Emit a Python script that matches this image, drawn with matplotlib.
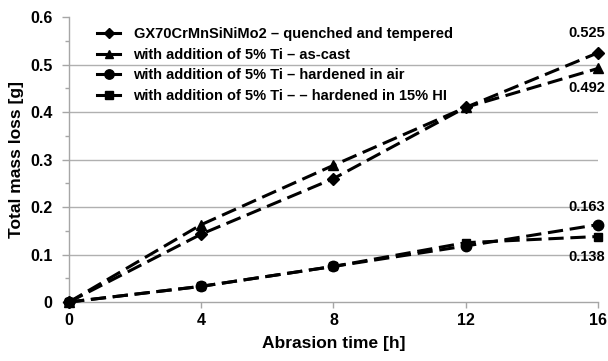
import matplotlib
matplotlib.use("Agg")
import matplotlib.pyplot as plt
from matplotlib.ticker import MultipleLocator, FixedLocator
from matplotlib.lines import Line2D
from matplotlib.legend_handler import HandlerLine2D

plt.rcParams['font.family'] = ['Liberation Sans', 'DejaVu Sans']

time_h = [0, 4, 8, 12, 16]
quenched_tempered = [0, 0.143, 0.260, 0.410, 0.525]
ti_as_cast = [0, 0.163, 0.288, 0.410, 0.492]
ti_hardened_air = [0, 0.033, 0.075, 0.118, 0.163]
ti_hardened_hi = [0, 0.033, 0.075, 0.125, 0.138]

series_labels = [
    "GX70CrMnSiNiMo2 – quenched and tempered",
    "with addition of 5% Ti – as-cast",
    "with addition of 5% Ti – hardened in air",
    "with addition of 5% Ti – – hardened in 15% HI",
]
yticks = [0, 0.1, 0.2, 0.3, 0.4, 0.5, 0.6]
ytick_labels = ["0", "0.1", "0.2", "0.3", "0.4", "0.5", "0.6"]
xticks = [0, 4, 8, 12, 16]


class EndMarkerHandler(HandlerLine2D):
    """Legend key: short solid stroke with the marker at its right end."""
    def get_xdata(self, legend, xdescent, ydescent, width, height, fontsize):
        xdata = [-xdescent, -xdescent + width]
        return xdata, [-xdescent + width * 0.85]


fig = plt.figure(figsize=(6.08, 3.61), dpi=100)
ax = fig.add_axes([0.1135, 0.1634, 0.870, 0.789])

series = [quenched_tempered, ti_as_cast, ti_hardened_air, ti_hardened_hi]
markers = ['D', '^', 'o', 's']
msizes = [6, 7, 7.5, 6]
handles = []
for vals, lab, mk, ms in zip(series, series_labels, markers, msizes):
    ax.plot(time_h, vals, color='black', lw=2.2, linestyle=(0, (5, 2.2)),
            marker=mk, markersize=ms, markeredgecolor='black',
            clip_on=False, zorder=3)
    handles.append(Line2D([], [], color='black', lw=2.2, marker=mk,
                          markersize=ms * 0.9, label=lab))

# end-point value labels
label_kw = dict(textcoords='offset points', ha='center', fontsize=10.5,
                fontweight='bold')
ax.annotate(f"{quenched_tempered[-1]:.3f}", (time_h[-1], quenched_tempered[-1]),
            xytext=(-8, 9), va='bottom', **label_kw)
ax.annotate(f"{ti_as_cast[-1]:.3f}", (time_h[-1], ti_as_cast[-1]),
            xytext=(-8, -9), va='top', **label_kw)
ax.annotate(f"{ti_hardened_air[-1]:.3f}", (time_h[-1], ti_hardened_air[-1]),
            xytext=(-8, 8), va='bottom', **label_kw)
ax.annotate(f"{ti_hardened_hi[-1]:.3f}", (time_h[-1], ti_hardened_hi[-1]),
            xytext=(-8, -10), va='top', **label_kw)

ax.set_xlim(0, 16)
ax.set_ylim(0, 0.6)
ax.yaxis.set_major_locator(FixedLocator(yticks))
ax.set_yticklabels(ytick_labels)
ax.yaxis.set_minor_locator(MultipleLocator(0.05))
ax.set_xticks(xticks)

for y in yticks[1:-1]:
    ax.axhline(y, color='#b0b0b0', lw=1, zorder=1)

for side in ['top', 'right']:
    ax.spines[side].set_visible(False)
for side in ['left', 'bottom']:
    ax.spines[side].set_color('#a6a6a6')
    ax.spines[side].set_linewidth(1)

ax.tick_params(axis='both', which='both', color='#a6a6a6', width=1)
ax.tick_params(axis='y', which='major', length=5, labelsize=11.5, pad=7)
ax.tick_params(axis='y', which='minor', length=3)
ax.tick_params(axis='x', which='major', length=4, labelsize=11.5, pad=4)
for t in ax.get_xticklabels() + ax.get_yticklabels():
    t.set_fontweight('bold')

ax.set_xlabel("Abrasion time [h]", fontsize=12.5, fontweight='bold', labelpad=6)
ax.set_ylabel("Total mass loss [g]", fontsize=12.5, fontweight='bold', labelpad=4)

leg = ax.legend(handles=handles, loc='upper left', bbox_to_anchor=(0.042, 0.985),
                frameon=False, fontsize=10.5, handlelength=1.6, handletextpad=0.9,
                labelspacing=0.45, borderaxespad=0.0,
                handler_map={Line2D: EndMarkerHandler(numpoints=1)})
for t in leg.get_texts():
    t.set_fontweight('bold')

fig.savefig("out.png", dpi=100)
